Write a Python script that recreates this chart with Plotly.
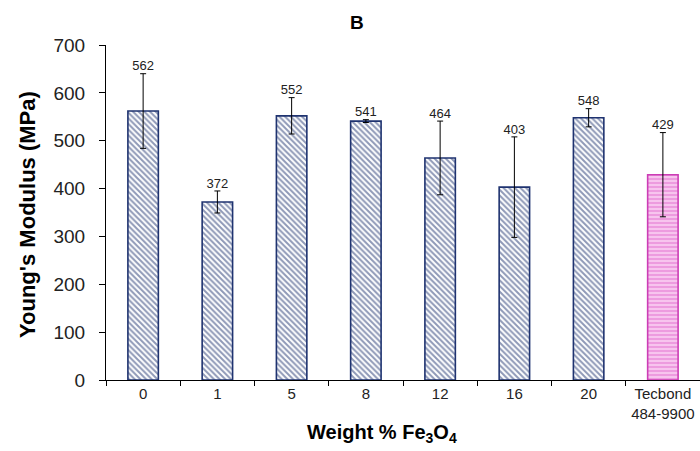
import plotly.graph_objects as go

categories = ["0", "1", "5", "8", "12", "16", "20", "Tecbond<br>484-9900"]
modulus = [562, 372, 552, 541, 464, 403, 548, 429]
errors = [78, 23, 38, 3, 77, 105, 19, 88]
labels = ["562", "372", "552", "541", "464", "403", "548", "429"]

navy = "#1F3370"
pink_line = "#CC3DB5"

n = len(categories) - 1

fig = go.Figure()
fig.add_trace(go.Bar(
    x=categories[:n], y=modulus[:n],
    width=0.41,
    marker=dict(
        color="white",
        line=dict(color=navy, width=1.6),
        pattern=dict(shape="\\", fgcolor=navy, bgcolor="white", size=4, solidity=0.5, fillmode="overlay"),
    ),
    error_y=dict(type="data", array=errors[:n], visible=True, color="black", thickness=1, width=3),
    showlegend=False,
))
fig.add_trace(go.Bar(
    x=categories[n:], y=modulus[n:],
    width=0.41,
    marker=dict(
        color="#F7C4EE",
        line=dict(color=pink_line, width=1.6),
        pattern=dict(shape="-", fgcolor="#D94CC2", bgcolor="#F7C4EE", size=4, solidity=0.35, fillmode="overlay"),
    ),
    error_y=dict(type="data", array=errors[n:], visible=True, color="black", thickness=1, width=3),
    showlegend=False,
))
fig.add_trace(go.Scatter(
    x=categories, y=[m + e for m, e in zip(modulus, errors)],
    mode="text", text=labels, textposition="top center",
    textfont=dict(size=13, color="#222", family="Liberation Sans, Arial"),
    showlegend=False, cliponaxis=False,
))

fig.update_layout(
    width=700, height=451,
    barmode="overlay",
    margin=dict(l=106, r=0, t=45, b=71),
    paper_bgcolor="white", plot_bgcolor="white",
    font=dict(family="Liberation Sans, Arial", color="black"),
    xaxis=dict(
        type="category", categoryorder="array", categoryarray=categories,
        showline=True, linecolor="black", linewidth=1,
        ticks="outside", tickson="boundaries", ticklen=5, tickcolor="black",
        tickfont=dict(size=15, color="#222"), tickangle=0, showgrid=False,
    ),
    yaxis=dict(
        range=[0, 700], dtick=100, showline=True, linecolor="black", linewidth=1,
        ticks="outside", ticklen=6, tickcolor="black",
        tickfont=dict(size=19, color="#222"), showgrid=False, zeroline=False,
        ticklabelstandoff=10,
    ),
    annotations=[
        dict(text="<b>B</b>", x=(357 - 106) / 594, y=(380 - 22) / 335, xref="paper", yref="paper",
             showarrow=False, font=dict(size=19), xanchor="center", yanchor="middle"),
        dict(text="<b>Weight % Fe<sub>3</sub>O<sub>4</sub></b>", x=(382 - 106) / 594, y=-53 / 335,
             xref="paper", yref="paper", showarrow=False, font=dict(size=20), xanchor="center", yanchor="middle"),
        dict(text="<b>Young's Modulus (MPa)</b>", x=(27 - 106) / 594, y=(380 - 215) / 335,
             xref="paper", yref="paper", showarrow=False, textangle=-90, font=dict(size=22),
             xanchor="center", yanchor="middle"),
    ],
)

fig.write_html("out.html")
